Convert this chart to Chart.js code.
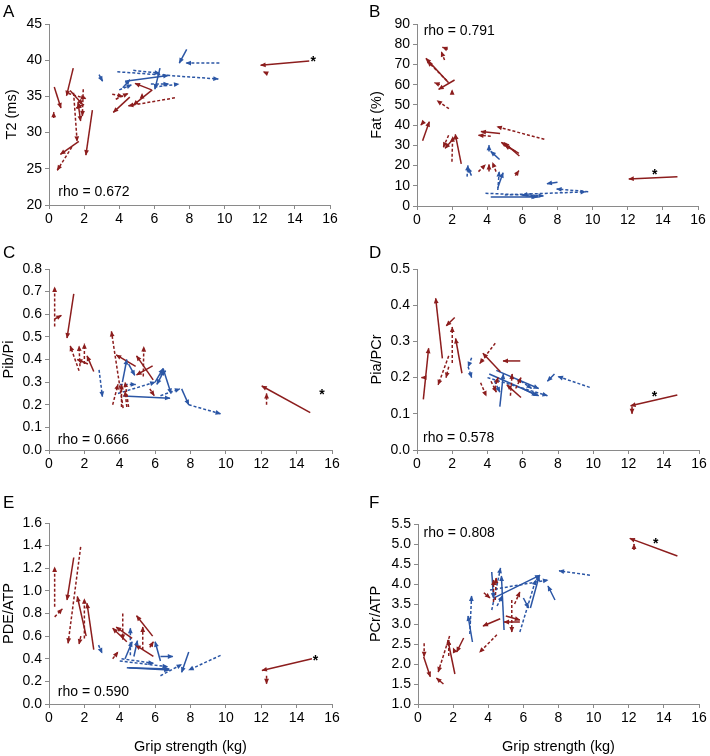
<!DOCTYPE html>
<html>
<head>
<meta charset="utf-8">
<script src="https://cdn.jsdelivr.net/npm/chart.js@4/dist/chart.umd.min.js"></script>
<style>
  body { margin: 0; background: #fff; font-family: "Liberation Sans", Arial, sans-serif; }
  #wrap { position: relative; width: 710px; height: 756px; }
  canvas { position: absolute; }
  .tag { position: absolute; font-size: 17px; line-height: 1; color: #000; }
</style>
</head>
<body>
<div id="wrap"></div>
<script>
// each arrow: [x0, y0, x1, y1], head at (x1, y1)
// A  T2 (ms)
const t2RedSolid = [[0.30,36.3,0.68,33.4],[1.38,38.9,1.00,35.1],[1.70,28.8,0.65,27.0],[2.47,33.1,2.10,26.9],[1.20,35.8,1.90,33.9],[1.65,34.2,1.80,31.6],[2.00,33.9,1.55,33.4],[4.60,34.9,3.66,32.8],[5.84,35.9,4.90,36.8],[5.88,35.9,4.80,33.8],[14.82,39.9,12.05,39.3]];
const t2RedDash = [[0.27,32.0,0.27,32.8],[1.40,35.5,1.60,28.8],[1.30,28.0,0.47,24.8],[1.10,35.4,2.10,34.7],[1.95,36.0,1.90,32.3],[2.00,35.0,1.60,33.3],[3.60,35.3,4.20,35.0],[3.80,34.6,4.50,35.4],[7.17,34.8,4.52,33.7],[5.30,34.8,5.30,35.4],[12.40,38.2,12.20,38.4]];
const t2BlueSolid = [[7.84,41.5,7.42,39.6],[4.33,37.1,6.79,37.9],[6.32,38.9,6.03,36.0],[4.20,36.2,4.60,37.3]];
const t2BlueDash = [[9.70,39.6,7.80,39.6],[3.89,38.4,9.64,37.4],[4.80,38.6,6.30,38.2],[6.00,36.3,7.40,36.7],[5.80,36.7,6.80,36.7],[4.00,35.9,4.70,36.6],[2.85,38.0,3.05,37.1]];
// B  Fat (%)
const fatRedSolid = [[1.80,61.0,0.51,73.0],[2.14,62.3,1.23,57.7],[0.32,32.3,0.70,41.7],[2.20,34.5,1.60,28.5],[2.52,20.8,2.18,35.4],[4.73,35.9,3.64,36.8],[5.83,24.7,4.96,31.3],[5.80,26.0,4.80,31.5],[14.83,14.5,12.06,13.4]];
const fatRedDash = [[1.75,77.5,1.45,78.5],[1.57,72.2,1.38,76.3],[1.70,62.0,0.60,71.5],[1.30,60.0,1.00,61.0],[2.00,55.5,2.00,57.5],[1.82,48.1,1.14,52.1],[0.32,41.0,0.22,40.0],[1.80,35.0,1.50,29.0],[1.99,21.9,2.03,34.3],[4.20,34.5,3.50,35.0],[7.25,33.0,4.55,39.2],[5.60,27.0,5.00,30.0],[3.50,17.0,3.90,20.5],[4.10,17.0,4.10,20.5],[4.50,17.0,4.30,21.5],[5.60,15.0,5.80,17.5]];
const fatBlueSolid = [[3.10,15.0,2.90,19.0],[4.70,23.0,4.20,27.0],[4.60,9.0,4.90,16.5],[8.00,11.8,7.40,11.0],[4.20,4.5,6.80,4.5],[6.00,5.3,6.90,4.5]];
const fatBlueDash = [[2.85,14.5,2.90,20.0],[4.10,27.0,4.10,30.0],[4.60,7.9,4.68,17.0],[9.75,7.1,7.95,8.4],[3.90,6.3,7.20,5.0],[5.00,5.5,9.60,7.0],[6.50,6.0,6.00,5.5]];
// C  Pib/Pi
const pibRedSolid = [[1.40,0.690,1.02,0.495],[2.20,0.380,1.60,0.400],[2.53,0.347,2.15,0.416],[4.90,0.370,3.80,0.420],[5.89,0.310,4.95,0.416],[5.86,0.372,4.95,0.332],[14.77,0.165,12.03,0.283]];
const pibRedDash = [[0.32,0.546,0.32,0.720],[0.32,0.579,0.70,0.595],[1.70,0.350,1.20,0.460],[1.75,0.370,1.70,0.460],[2.00,0.380,2.00,0.470],[3.60,0.200,3.90,0.290],[4.19,0.185,3.53,0.524],[4.10,0.190,4.10,0.290],[4.40,0.190,4.30,0.260],[4.50,0.190,4.30,0.300],[5.33,0.325,5.36,0.457],[5.70,0.270,5.95,0.240],[12.30,0.200,12.30,0.250]];
const pibBlueSolid = [[4.15,0.300,4.40,0.400],[4.50,0.380,4.85,0.330],[4.19,0.239,6.84,0.229],[6.00,0.300,6.45,0.360],[6.45,0.360,6.90,0.250],[7.50,0.270,7.90,0.200],[6.50,0.350,6.10,0.290]];
const pibBlueDash = [[2.83,0.354,3.02,0.236],[3.90,0.250,6.00,0.300],[4.00,0.290,4.90,0.290],[6.30,0.240,7.40,0.270],[7.90,0.200,9.70,0.160],[6.30,0.330,6.60,0.350]];
// D  Pia/PCr
const piaRedSolid = [[0.36,0.140,0.66,0.281],[1.44,0.253,1.06,0.419],[2.14,0.366,1.66,0.343],[2.55,0.212,2.19,0.308],[4.73,0.216,3.74,0.267],[5.86,0.246,4.88,0.246],[5.90,0.145,5.10,0.180],[14.77,0.152,12.12,0.122]];
const piaRedDash = [[0.36,0.200,0.25,0.200],[2.00,0.240,2.00,0.340],[1.80,0.260,1.20,0.180],[1.80,0.230,1.65,0.200],[3.61,0.186,3.93,0.149],[4.44,0.295,3.56,0.239],[4.20,0.190,4.50,0.160],[4.40,0.170,4.60,0.200],[5.30,0.150,5.40,0.210],[5.60,0.170,5.90,0.200],[12.20,0.120,12.20,0.100]];
const piaBlueSolid = [[4.70,0.120,4.90,0.210],[4.10,0.210,6.90,0.150],[4.50,0.220,6.90,0.170],[7.80,0.210,7.40,0.190],[6.00,0.170,6.80,0.150]];
const piaBlueDash = [[3.10,0.255,2.90,0.230],[2.90,0.230,3.10,0.200],[4.00,0.200,7.40,0.150],[5.90,0.190,6.50,0.170],[4.40,0.190,4.70,0.160],[9.80,0.173,8.00,0.203]];
// E  PDE/ATP
const pdeRedSolid = [[1.40,1.295,1.02,0.920],[2.10,0.600,1.60,0.950],[2.53,0.480,2.15,0.890],[4.40,0.550,3.60,0.670],[4.70,0.580,3.80,0.680],[5.86,0.600,4.95,0.780],[5.90,0.420,4.90,0.520],[14.87,0.400,12.04,0.297]];
const pdeRedDash = [[0.32,0.860,0.32,1.210],[0.32,0.770,0.75,0.840],[1.79,1.389,1.08,0.537],[1.80,0.600,1.70,0.530],[2.00,0.580,2.00,0.930],[3.60,0.400,3.90,0.460],[4.17,0.800,4.17,0.570],[5.30,0.480,5.30,0.680],[5.70,0.500,5.90,0.550],[12.30,0.250,12.30,0.180]];
const pdeBlueSolid = [[4.30,0.400,4.70,0.550],[4.80,0.420,5.00,0.560],[4.40,0.320,6.80,0.300],[4.50,0.320,6.80,0.310],[6.30,0.380,6.00,0.550],[6.30,0.420,7.00,0.420],[7.90,0.460,7.50,0.280]];
const pdeBlueDash = [[2.80,0.520,3.00,0.450],[4.60,0.430,4.60,0.670],[4.00,0.380,6.70,0.330],[4.10,0.400,5.90,0.360],[6.30,0.250,7.50,0.350],[9.70,0.430,7.90,0.300]];
// F  PCr/ATP
const pcrRedSolid = [[0.32,2.180,0.70,1.680],[1.45,1.500,1.05,1.650],[2.10,1.750,1.70,2.600],[2.60,2.650,2.20,2.300],[4.68,3.130,3.70,2.950],[5.80,3.050,4.90,3.050],[5.00,3.200,5.80,3.100],[14.77,4.700,12.06,5.140]];
const pcrRedDash = [[0.35,2.520,0.35,2.180],[1.80,2.700,1.15,1.800],[1.75,2.200,1.75,2.600],[2.10,2.300,2.00,2.400],[4.49,2.730,3.50,2.290],[3.75,3.780,4.10,3.650],[4.30,3.550,4.30,4.100],[4.40,3.600,4.45,4.150],[5.34,3.600,5.34,2.800],[5.50,3.500,5.80,3.800],[12.30,4.850,12.30,5.000]];
const pcrBlueSolid = [[3.10,2.550,2.85,3.200],[4.20,4.300,4.30,3.650],[4.36,3.660,6.95,4.220],[4.90,2.850,4.75,4.200],[6.00,3.650,6.30,3.400],[6.40,3.400,6.90,4.200],[7.80,3.600,7.40,3.950]];
const pcrBlueDash = [[2.95,2.750,3.05,3.700],[4.20,3.350,4.70,4.400],[4.10,3.850,7.40,4.100],[4.50,3.450,4.80,3.700],[5.80,2.800,6.70,4.100],[9.79,4.220,8.03,4.330]];

const panelIds = ['A', 'B', 'C', 'D', 'E', 'F'];
const yTitles = ['T2 (ms)', 'Fat (%)', 'Pib/Pi', 'Pia/PCr', 'PDE/ATP', 'PCr/ATP'];
const yMin = [20, 0, 0, 0, 0, 1.0];
const yMax = [45, 90, 0.8, 0.5, 1.6, 5.5];
const yStep = [5, 10, 0.1, 0.1, 0.2, 0.5];
const yDecimals = [0, 0, 1, 1, 1, 1];
const xMin = 0, xMax = 16, xStep = 2;
const xTitle = 'Grip strength (kg)';
const rhoText = ['rho = 0.672', 'rho = 0.791', 'rho = 0.666', 'rho = 0.578', 'rho = 0.590', 'rho = 0.808'];
const rhoAt = [[0.53, 21.8], [0.38, 86.7], [0.5, 0.044], [0.34, 0.032], [0.5, 0.103], [0.32, 5.28]];
const starAt = [[15.05, 40.1], [13.54, 16.6], [15.43, 0.255], [13.48, 0.155], [15.06, 0.405], [13.54, 5.06]];
const arrowSets = [
  [t2RedSolid, t2RedDash, t2BlueSolid, t2BlueDash],
  [fatRedSolid, fatRedDash, fatBlueSolid, fatBlueDash],
  [pibRedSolid, pibRedDash, pibBlueSolid, pibBlueDash],
  [piaRedSolid, piaRedDash, piaBlueSolid, piaBlueDash],
  [pdeRedSolid, pdeRedDash, pdeBlueSolid, pdeBlueDash],
  [pcrRedSolid, pcrRedDash, pcrBlueSolid, pcrBlueDash],
];

// layout: canvas left, top, w, h, y-axis width, pad top, pad right, x-axis height, title offset
const boxes = [
  [0,   0,   355, 250, 49, 24, 25, 45, 3],
  [355, 0,   355, 250, 62, 24, 12, 44, 13],
  [0,   250, 355, 250, 49, 19, 23, 50, 0],
  [355, 250, 355, 250, 62, 19, 11, 50, 13],
  [0,   500, 355, 256, 49, 23, 23, 52, 0],
  [355, 500, 355, 256, 63, 24, 11, 52, 12],
];

const RED = '#8c1d1d', BLUE = '#2b56a5', AXIS = '#8a8a8a';
const FONT = '"Liberation Sans", Arial, sans-serif';
const styles = [[RED, []], [RED, [3, 2]], [BLUE, []], [BLUE, [3, 2]]];

const arrowHeads = {
  id: 'arrowHeads',
  afterDatasetsDraw(chart) {
    const ctx = chart.ctx;
    chart.data.datasets.forEach((ds, i) => {
      const pts = chart.getDatasetMeta(i).data;
      if (pts.length < 2) return;
      const a = pts[0], b = pts[1];
      const ang = Math.atan2(b.y - a.y, b.x - a.x);
      ctx.save();
      ctx.translate(b.x, b.y);
      ctx.rotate(ang);
      ctx.fillStyle = ds.borderColor;
      ctx.beginPath();
      ctx.moveTo(0.5, 0);
      ctx.lineTo(-5, -2.4);
      ctx.lineTo(-5, 2.4);
      ctx.closePath();
      ctx.fill();
      ctx.restore();
    });
  }
};

const notes = {
  id: 'notes',
  afterDraw(chart, args, opts) {
    const { ctx, scales: { x, y } } = chart;
    ctx.save();
    ctx.fillStyle = '#000';
    ctx.textBaseline = 'middle';
    ctx.font = '14px ' + FONT;
    ctx.fillText(opts.rho, x.getPixelForValue(opts.rhoAt[0]), y.getPixelForValue(opts.rhoAt[1]));
    ctx.textAlign = 'center';
    ctx.font = 'bold 14px ' + FONT;
    ctx.fillText('*', x.getPixelForValue(opts.starAt[0]), y.getPixelForValue(opts.starAt[1]) + 3);
    ctx.restore();
  }
};

const wrap = document.getElementById('wrap');

panelIds.forEach((id, p) => {
  const [left, top, w, h, yW, padTop, padRight, xH, titlePad] = boxes[p];
  const cv = document.createElement('canvas');
  cv.width = w; cv.height = h;
  cv.style.left = left + 'px'; cv.style.top = top + 'px';
  wrap.appendChild(cv);

  const tag = document.createElement('div');
  tag.className = 'tag';
  tag.textContent = id;
  tag.style.left = (left + (left ? 14 : 3)) + 'px';
  tag.style.top = (top + (top ? -6 : 3)) + 'px';
  wrap.appendChild(tag);

  const datasets = [];
  arrowSets[p].forEach((list, k) => {
    const [color, dash] = styles[k];
    list.forEach(s => datasets.push({
      data: [{ x: s[0], y: s[1] }, { x: s[2], y: s[3] }],
      showLine: true, borderColor: color, borderWidth: 1.5, borderDash: dash,
      pointRadius: 0, pointHoverRadius: 0, fill: false,
    }));
  });

  const withX = p >= 4;
  new Chart(cv, {
    type: 'scatter',
    data: { datasets },
    plugins: [arrowHeads, notes],
    options: {
      responsive: false, animation: false, devicePixelRatio: 1, events: [],
      layout: { padding: { top: padTop, right: padRight, left: 0, bottom: 0 } },
      plugins: {
        legend: { display: false }, tooltip: { enabled: false },
        notes: { rho: rhoText[p], rhoAt: rhoAt[p], starAt: starAt[p] },
      },
      scales: {
        x: {
          type: 'linear', min: xMin, max: xMax,
          afterFit: s => { s.height = xH; },
          ticks: { stepSize: xStep, color: '#000', padding: 2, font: { family: FONT, size: 14 } },
          grid: { drawOnChartArea: false, drawTicks: true, tickLength: 4, color: AXIS },
          border: { color: AXIS },
          title: { display: withX, text: xTitle, color: '#000', padding: { top: 0, bottom: 0 }, font: { family: FONT, size: 14.5 } },
        },
        y: {
          type: 'linear', min: yMin[p], max: yMax[p],
          afterFit: s => { s.width = yW; },
          ticks: { stepSize: yStep[p], color: '#000', padding: 3, font: { family: FONT, size: 14 },
                   callback: v => Number(v).toFixed(yDecimals[p]) },
          grid: { drawOnChartArea: false, drawTicks: true, tickLength: 4, color: AXIS },
          border: { color: AXIS },
          title: { display: true, text: yTitles[p], color: '#000', padding: { top: titlePad, bottom: 0 }, font: { family: FONT, size: 14.5 } },
        },
      },
    },
  });
});
</script>
</body>
</html>
